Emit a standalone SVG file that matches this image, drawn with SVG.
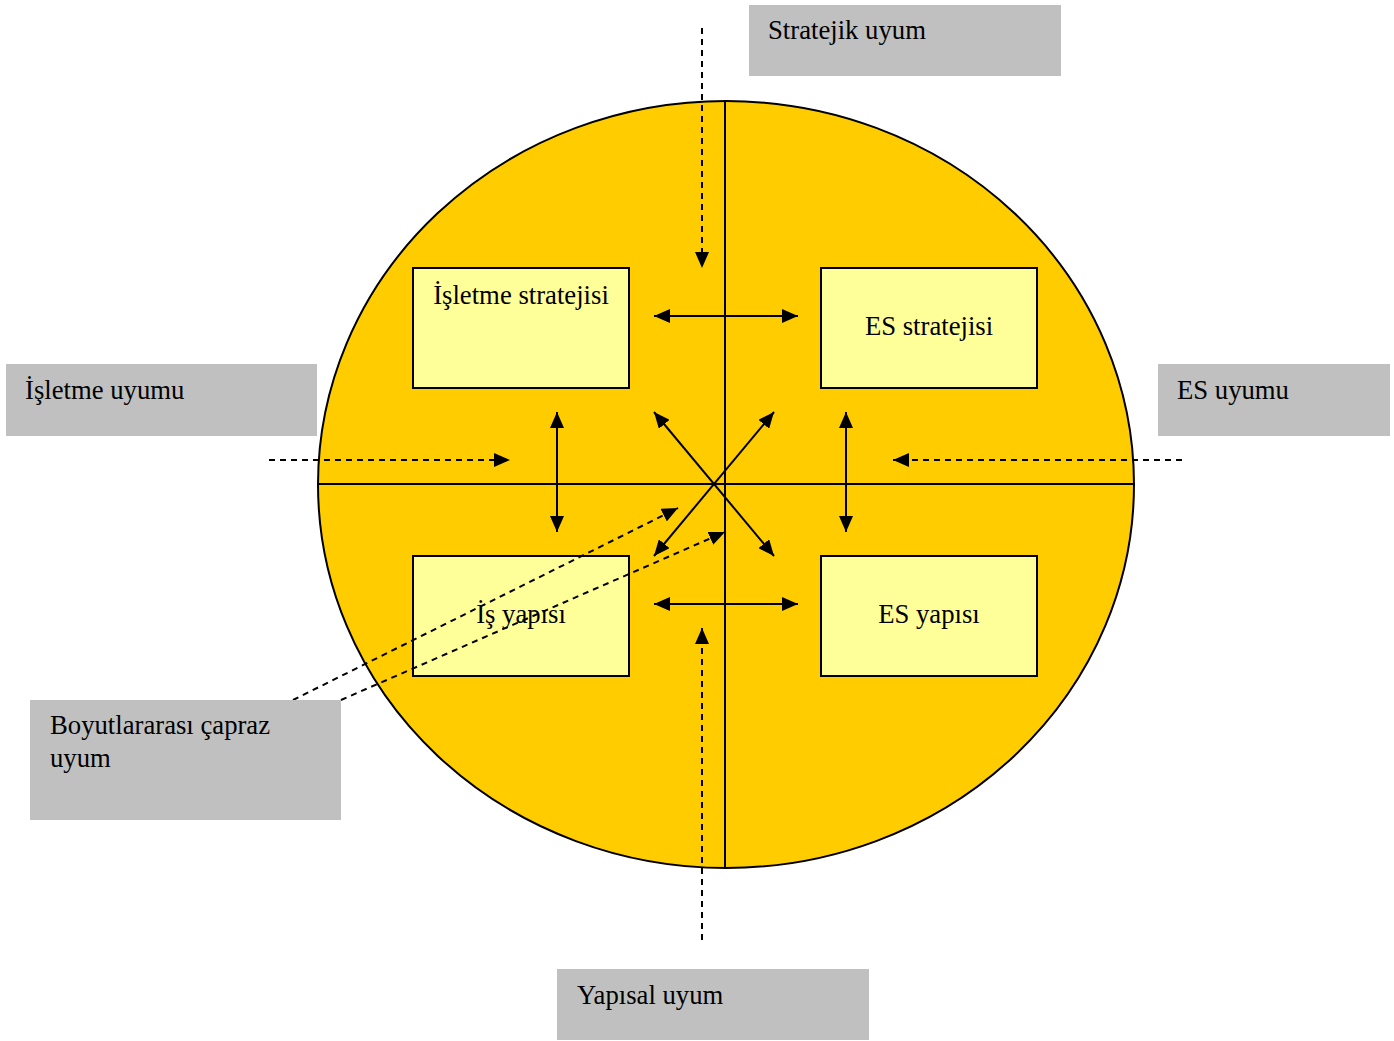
<svg xmlns="http://www.w3.org/2000/svg" width="1394" height="1041" viewBox="0 0 1394 1041">
<style>
.t{font-family:"Liberation Serif","Times New Roman",serif;font-size:26.7px;fill:#000}
.box{fill:#FFFF99;stroke:#000;stroke-width:2}
.gray{fill:#C0C0C0}
.sol{stroke:#000;stroke-width:2;fill:none}
.dash{stroke:#000;stroke-width:2;fill:none;stroke-dasharray:6 5}
</style>
<defs>
<marker id="ah" markerUnits="userSpaceOnUse" markerWidth="16" markerHeight="14" viewBox="0 0 16 14" refX="16" refY="7" orient="auto-start-reverse">
<path d="M0,0 L16,7 L0,14 z" fill="#000"/>
</marker>
</defs>
<g id="background">
<ellipse cx="726" cy="484.5" rx="408" ry="383.5" fill="#FFCC00" stroke="#000" stroke-width="2"/>
<line x1="725" y1="101" x2="725" y2="868" class="sol"/>
<line x1="318" y1="484" x2="1134" y2="484" class="sol"/>
</g>
<g id="n1"><rect x="413" y="268" width="216" height="120" class="box"/><text x="521" y="304" text-anchor="middle" class="t">İşletme stratejisi</text></g>
<g id="n2"><rect x="821" y="268" width="216" height="120" class="box"/><text x="929" y="335" text-anchor="middle" class="t">ES stratejisi</text></g>
<g id="n3"><rect x="413" y="556" width="216" height="120" class="box"/><text x="521" y="623" text-anchor="middle" class="t">İş yapısı</text></g>
<g id="n4"><rect x="821" y="556" width="216" height="120" class="box"/><text x="929" y="623" text-anchor="middle" class="t">ES yapısı</text></g>
<g id="connectors">
<line x1="654" y1="316" x2="798" y2="316" class="sol" marker-start="url(#ah)" marker-end="url(#ah)"/>
<line x1="654" y1="604" x2="798" y2="604" class="sol" marker-start="url(#ah)" marker-end="url(#ah)"/>
<line x1="557" y1="412" x2="557" y2="532" class="sol" marker-start="url(#ah)" marker-end="url(#ah)"/>
<line x1="846" y1="412" x2="846" y2="532" class="sol" marker-start="url(#ah)" marker-end="url(#ah)"/>
<line x1="654" y1="412" x2="774" y2="556" class="sol" marker-start="url(#ah)" marker-end="url(#ah)"/>
<line x1="774" y1="412" x2="654" y2="556" class="sol" marker-start="url(#ah)" marker-end="url(#ah)"/>
<line x1="702" y1="28" x2="702" y2="268" class="dash" marker-end="url(#ah)"/>
<line x1="702" y1="940" x2="702" y2="628" class="dash" marker-end="url(#ah)"/>
<line x1="269" y1="460" x2="510" y2="460" class="dash" marker-end="url(#ah)"/>
<line x1="1182" y1="460" x2="893" y2="460" class="dash" marker-end="url(#ah)"/>
<line x1="293" y1="700" x2="678" y2="508" class="dash" marker-end="url(#ah)"/>
<line x1="341" y1="700" x2="725" y2="532" class="dash" marker-end="url(#ah)"/>
</g>
<g id="g1"><rect x="749" y="5" width="312" height="71" class="gray"/><text x="768" y="39" class="t">Stratejik uyum</text></g>
<g id="g2"><rect x="6" y="364" width="311" height="72" class="gray"/><text x="25" y="399" class="t">İşletme uyumu</text></g>
<g id="g3"><rect x="1158" y="364" width="232" height="72" class="gray"/><text x="1177" y="399" class="t">ES uyumu</text></g>
<g id="g4"><rect x="30" y="700" width="311" height="120" class="gray"/><text x="50" y="734" class="t">Boyutlararası çapraz</text><text x="50" y="767" class="t">uyum</text></g>
<g id="g5"><rect x="557" y="969" width="312" height="71" class="gray"/><text x="577" y="1004" class="t">Yapısal uyum</text></g>
</svg>
